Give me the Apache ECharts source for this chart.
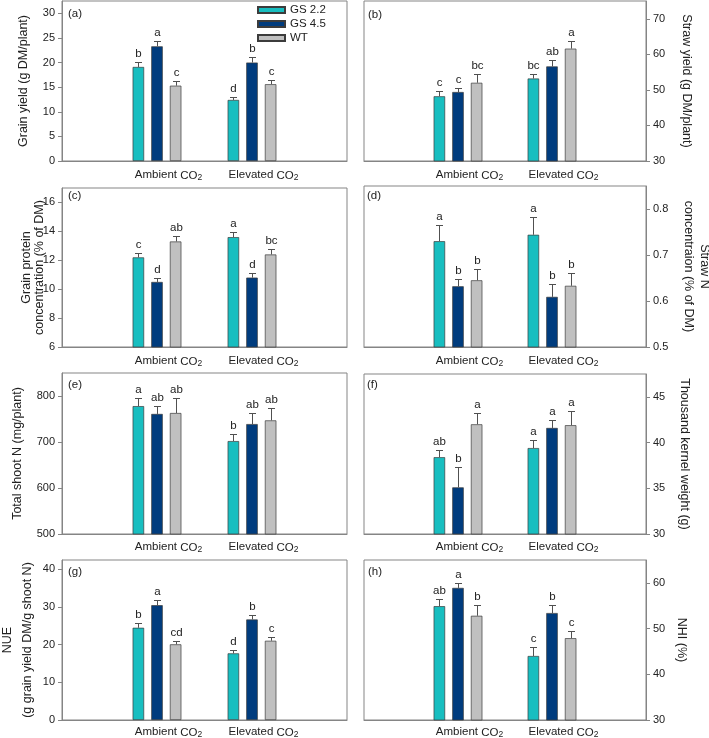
<!DOCTYPE html>
<html><head><meta charset="utf-8">
<script src="https://cdn.jsdelivr.net/npm/echarts@6/dist/echarts.min.js"></script>
<style>html,body{margin:0;padding:0;background:#fff}#c{width:709px;height:738px}</style>
</head><body><div id="c"></div>
<script>
// ---------------- DATA ----------------
const categories = ['Ambient', 'Elevated'];
const genotypes = ['GS 2.2', 'GS 4.5', 'WT'];
const panelTags = ['(a)', '(b)', '(c)', '(d)', '(e)', '(f)', '(g)', '(h)'];

// rows: [Ambient, Elevated]; columns: [GS 2.2, GS 4.5, WT]
const grainYieldMean = [[19.1, 23.3, 15.3], [12.4, 20.0, 15.6]];
const grainYieldErr  = [[1.0, 1.0, 0.95], [0.6, 1.2, 0.8]];
const grainYieldSig  = [['b', 'a', 'c'], ['d', 'b', 'c']];
const grainYieldTicks = [0, 5, 10, 15, 20, 25, 30];

const strawYieldMean = [[48.2, 49.4, 52.0], [53.2, 56.6, 61.6]];
const strawYieldErr  = [[1.4, 1.0, 2.5], [1.4, 1.9, 2.2]];
const strawYieldSig  = [['c', 'c', 'bc'], ['bc', 'ab', 'a']];
const strawYieldTicks = [30, 40, 50, 60, 70];

const grainProteinMean = [[12.2, 10.5, 13.3], [13.6, 10.8, 12.4]];
const grainProteinErr  = [[0.27, 0.28, 0.4], [0.35, 0.35, 0.4]];
const grainProteinSig  = [['c', 'd', 'ab'], ['a', 'd', 'bc']];
const grainProteinTicks = [6, 8, 10, 12, 14, 16];

const strawNMean = [[0.730, 0.632, 0.645], [0.744, 0.609, 0.633]];
const strawNErr  = [[0.035, 0.015, 0.024], [0.038, 0.027, 0.027]];
const strawNSig  = [['a', 'b', 'b'], ['a', 'b', 'b']];
const strawNTicks = [0.5, 0.6, 0.7, 0.8];

const shootNMean = [[778, 761, 763], [702, 739, 747]];
const shootNErr  = [[17, 17, 32], [16, 24, 28]];
const shootNSig  = [['a', 'ab', 'ab'], ['b', 'ab', 'ab']];
const shootNTicks = [500, 600, 700, 800];

const kernelMean = [[38.4, 35.1, 42.0], [39.4, 41.6, 41.9]];
const kernelErr  = [[0.8, 2.2, 1.2], [0.85, 0.9, 1.5]];
const kernelSig  = [['ab', 'b', 'a'], ['a', 'a', 'a']];
const kernelTicks = [30, 35, 40, 45];

const nueMean = [[24.5, 30.5, 20.1], [17.7, 26.7, 21.05]];
const nueErr  = [[1.2, 1.3, 1.0], [0.8, 1.1, 1.05]];
const nueSig  = [['b', 'a', 'cd'], ['d', 'b', 'c']];
const nueTicks = [0, 10, 20, 30, 40];

const nhiMean = [[54.9, 58.9, 52.8], [44.0, 53.4, 47.9]];
const nhiErr  = [[1.6, 1.1, 2.3], [1.9, 1.65, 1.5]];
const nhiSig  = [['ab', 'a', 'b'], ['c', 'b', 'c']];
const nhiTicks = [30, 40, 50, 60];

const panels = [
  {mean: grainYieldMean, err: grainYieldErr, sig: grainYieldSig, ticks: grainYieldTicks, min: 0, max: 32.5, title: 'Grain yield (g DM/plant)'},
  {mean: strawYieldMean, err: strawYieldErr, sig: strawYieldSig, ticks: strawYieldTicks, min: 30, max: 75, title: 'Straw yield (g DM/plant)'},
  {mean: grainProteinMean, err: grainProteinErr, sig: grainProteinSig, ticks: grainProteinTicks, min: 6, max: 17, title: 'Grain protein\nconcentration (% of DM)'},
  {mean: strawNMean, err: strawNErr, sig: strawNSig, ticks: strawNTicks, min: 0.5, max: 0.85, title: 'Straw N\nconcentraion (% of DM)'},
  {mean: shootNMean, err: shootNErr, sig: shootNSig, ticks: shootNTicks, min: 500, max: 850, title: 'Total shoot N (mg/plant)'},
  {mean: kernelMean, err: kernelErr, sig: kernelSig, ticks: kernelTicks, min: 30, max: 47.5, title: 'Thousand kernel weight (g)'},
  {mean: nueMean, err: nueErr, sig: nueSig, ticks: nueTicks, min: 0, max: 42.5, title: 'NUE\n(g grain yield DM/g shoot N)'},
  {mean: nhiMean, err: nhiErr, sig: nhiSig, ticks: nhiTicks, min: 30, max: 65, title: 'NHI (%)'}
];

// ---------------- LAYOUT / STYLE ----------------
const FONT = '"Liberation Sans", Arial, sans-serif';
const TXT = '#222';
const AX = '#858585';
const colors = ['#18bec0', '#003c7e', '#c0c0c0'];
const BAR_W = 11.5, BAR_GAP = 0.62, BAR_STEP = BAR_W * (1 + BAR_GAP);
const layout = [
  {left: 62,  top: 1,   width: 285, height: 160, side: 'left',  gap: 31, lh: 14, lm: 7, tag: [68, 13.5]},
  {left: 364, top: 1,   width: 282, height: 160, side: 'right', gap: 33, lh: 14, lm: 7, tag: [368, 14.5]},
  {left: 62,  top: 188, width: 285, height: 159, side: 'left',  gap: 16, lh: 13, lm: 7, tag: [68, 196]},
  {left: 364, top: 186, width: 282, height: 161, side: 'right', gap: 34, lh: 16, lm: 7, tag: [367, 196]},
  {left: 62,  top: 373, width: 285, height: 161, side: 'left',  gap: 37, lh: 14, lm: 6, tag: [68, 385]},
  {left: 364, top: 374, width: 282, height: 160, side: 'right', gap: 31, lh: 14, lm: 6, tag: [367, 385]},
  {left: 62,  top: 560, width: 285, height: 160, side: 'left',  gap: 24, lh: 20, lm: 5, tag: [68, 572]},
  {left: 364, top: 560, width: 282, height: 160, side: 'right', gap: 28, lh: 14, lm: 5, tag: [368, 572]}
];

const catAxisData = [''].concat(categories, ['']);
const grids = [], xAxes = [], yAxes = [], series = [];

panels.forEach((p, i) => {
  const L = layout[i];
  grids.push({left: L.left, top: L.top, width: L.width, height: L.height, show: true,
    containLabel: false, outerBoundsMode: 'none',
    borderColor: AX, borderWidth: 1, backgroundColor: 'transparent'});
  xAxes.push({type: 'category', gridIndex: i, data: catAxisData, boundaryGap: false,
    axisLine: {show: true, lineStyle: {color: AX}}, axisTick: {show: false},
    axisLabel: {interval: 0, margin: L.lm, color: TXT, fontFamily: FONT, fontSize: 11.5,
      formatter: v => v ? '{pad|}{t|' + v + ' }{co|CO}{sub|2}' : '',
      rich: {
        pad: {width: 23},
        t: {fontSize: 11.5, fontFamily: FONT, color: TXT, lineHeight: 14},
        co: {fontSize: 11.5, fontFamily: FONT, color: TXT, lineHeight: 14, verticalAlign: 'bottom'},
        sub: {fontSize: 8.5, fontFamily: FONT, color: TXT, lineHeight: 9, verticalAlign: 'bottom'}
      }},
    splitLine: {show: false}});
  yAxes.push({type: 'value', gridIndex: i, position: L.side, min: p.min, max: p.max,
    axisLine: {show: true, lineStyle: {color: AX}},
    axisTick: {show: true, inside: false, length: 4, customValues: p.ticks, lineStyle: {color: AX}},
    axisLabel: {customValues: p.ticks, color: TXT, fontFamily: FONT, fontSize: 11, margin: 7},
    splitLine: {show: false},
    name: p.title, nameLocation: 'middle', nameGap: L.gap, nameMoveOverlap: false,
    nameRotate: L.side === 'left' ? 90 : -90,
    nameTextStyle: {color: TXT, fontFamily: FONT, fontSize: 12.5, lineHeight: L.lh}});

  genotypes.forEach((g, gi) => {
    series.push({type: 'bar', name: g, xAxisIndex: i, yAxisIndex: i,
      data: [null, p.mean[0][gi], p.mean[1][gi], null],
      barWidth: BAR_W, barGap: (BAR_GAP * 100) + '%',
      itemStyle: {color: colors[gi], borderColor: '#3c3c3c', borderWidth: 0.7},
      silent: true, animation: false, z: 2});
  });

  const items = [];
  p.mean.forEach((row, ci) => row.forEach((m, gi) => items.push([ci + 1, m, p.err[ci][gi], gi])));
  series.push({type: 'custom', xAxisIndex: i, yAxisIndex: i, data: items, silent: true,
    animation: false, z: 3,
    renderItem: (params, api) => {
      const ci = api.value(0), m = api.value(1), e = api.value(2), gi = api.value(3);
      const base = api.coord([ci, m]);
      const top = api.coord([ci, m + e]);
      const x = Math.round(base[0] + (gi - 1) * BAR_STEP) + 0.5;
      const yt = Math.round(top[1]) + 0.5;
      const sig = p.sig[ci - 1][gi];
      return {type: 'group', children: [
        {type: 'line', shape: {x1: x, y1: base[1], x2: x, y2: yt}, style: {stroke: '#505050', lineWidth: 1}},
        {type: 'line', shape: {x1: x - 3.5, y1: yt, x2: x + 3.5, y2: yt}, style: {stroke: '#505050', lineWidth: 1}},
        {type: 'text', x: x, y: yt - 2.5, style: {text: sig, textAlign: 'center', textVerticalAlign: 'bottom',
          fontSize: 11.5, fontFamily: FONT, fill: TXT}}
      ]};
    }});
});

const graphic = panelTags.map((t, i) => ({type: 'text', x: layout[i].tag[0], y: layout[i].tag[1],
  style: {text: t, fontSize: 11.5, fontFamily: FONT, fill: TXT, textVerticalAlign: 'middle'}, silent: true}));

const chart = echarts.init(document.getElementById('c'), null, {renderer: 'canvas'});
chart.setOption({
  animation: false,
  backgroundColor: '#fff',
  textStyle: {fontFamily: FONT},
  grid: grids, xAxis: xAxes, yAxis: yAxes, series: series, graphic: graphic,
  legend: {data: genotypes, orient: 'vertical', left: 257, top: 3, padding: 0, itemWidth: 27, itemHeight: 6,
    itemGap: 0, icon: 'rect', selectedMode: false,
    textStyle: {fontSize: 11.5, fontFamily: FONT, color: TXT, lineHeight: 14}}
});
</script></body></html>
